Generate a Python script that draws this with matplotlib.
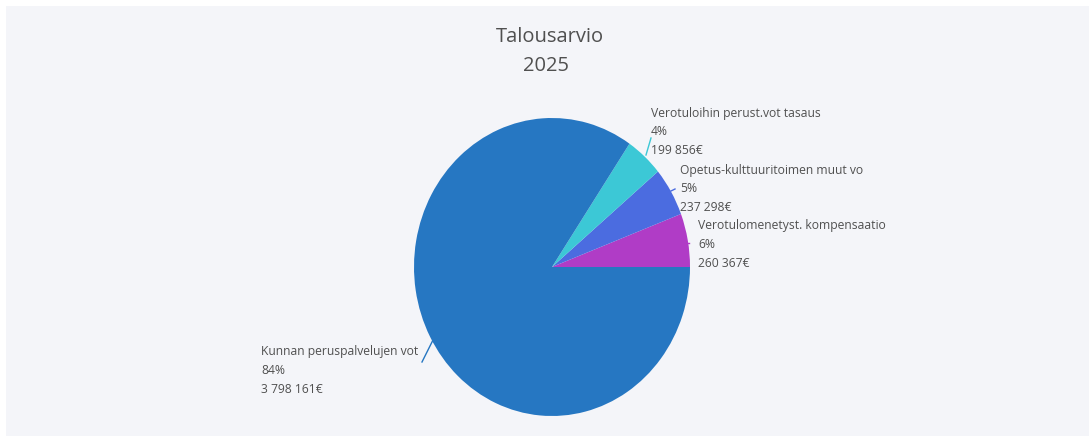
import matplotlib.pyplot as plt
from matplotlib.lines import Line2D
from matplotlib.patches import Rectangle

names = ['Verotulomenetyst. kompensaatio', 'Opetus-kulttuuritoimen muut vo',
         'Verotuloihin perust.vot tasaus', 'Kunnan peruspalvelujen vot']
values = [260367, 237298, 199856, 3798161]
colors = ['#b03cc6', '#4b6ce0', '#3cc8d6', '#2677c2']

W, H = 1089, 437
fig = plt.figure(figsize=(W / 100, H / 100), dpi=100)
fig.patch.set_facecolor('white')
fig.patches.append(Rectangle((6 / W, 1 / H), 1 - 6 / W, 430 / H, transform=fig.transFigure,
                             facecolor='#f4f5f9', edgecolor='none', zorder=-5))

# pie area (slightly taller than wide, as in the screenshot)
cx, cy, rx, ry = 552, 267, 138, 149
ax = fig.add_axes([(cx - rx) / W, (H - cy - ry) / H, 2 * rx / W, 2 * ry / H], zorder=2)
ax.pie(values, colors=colors, startangle=0, counterclock=True, radius=1,
       wedgeprops=dict(linewidth=0))
ax.set_aspect('auto')
ax.set_xlim(-1, 1)
ax.set_ylim(-1, 1)
ax.axis('off')

font = 'Open Sans'
tc = '#505050'
fig.text(550 / W, 1 - 37 / H, 'Talousarvio', ha='center', va='center', fontsize=14.5,
         color=tc, family=font)
fig.text(546 / W, 1 - 66 / H, '2025', ha='center', va='center', fontsize=14.5,
         color=tc, family=font)

total = sum(values)
label_pos = [(698, 226), (680, 170), (651, 113), (261, 352)]
for name, v, (px, py) in zip(names, values, label_pos):
    pct = round(v / total * 100)
    amount = f'{v:,}'.replace(',', ' ') + '€'
    for i, line in enumerate([name, f'{pct}%', amount]):
        fig.text(px / W, 1 - (py + i * 18.7) / H, line, ha='left', va='center',
                 fontsize=8.7, color=tc, family=font)

# leader lines
leaders = [((686, 689), (243, 243)), ((671, 675), (191, 189)),
           ((646, 651), (155, 138)), ((422, 434), (362, 338))]
for (xs, ys), c in zip(leaders, colors):
    fig.lines.append(Line2D([x / W for x in xs], [1 - y / H for y in ys],
                            transform=fig.transFigure, color=c, linewidth=1))

fig.savefig('out.png', dpi=100, facecolor=fig.get_facecolor())
